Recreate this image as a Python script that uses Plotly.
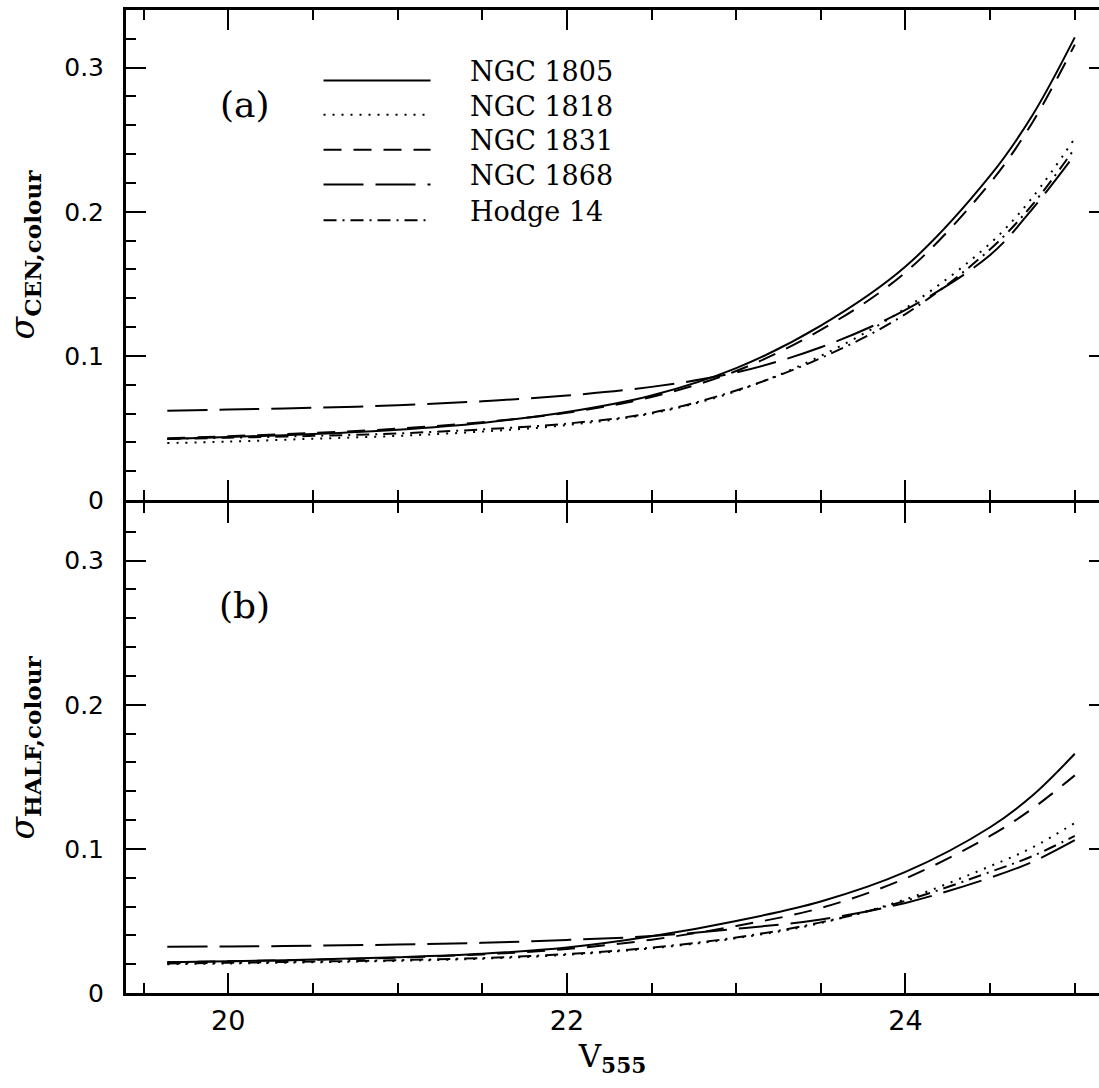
import plotly.graph_objects as go

# ---------------- data ----------------
V = [19.64, 20.0, 20.5, 21.0, 21.5, 22.0, 22.5, 23.0, 23.5, 24.0, 24.5, 24.75, 25.0]

# panel (a): sigma_CEN,colour
cen_1805 = [0.0424, 0.0437, 0.0458, 0.0488, 0.0535, 0.0610, 0.0725, 0.0915, 0.121, 0.162, 0.225, 0.267, 0.321]
cen_1818 = [0.0395, 0.0405, 0.0425, 0.0445, 0.0475, 0.0520, 0.0600, 0.0755, 0.100, 0.133, 0.178, 0.210, 0.251]
cen_1831 = [0.0428, 0.0443, 0.0465, 0.0495, 0.0540, 0.0605, 0.0715, 0.0895, 0.118, 0.158, 0.220, 0.262, 0.316]
cen_1868 = [0.0620, 0.0628, 0.0640, 0.0657, 0.0685, 0.0725, 0.0785, 0.0885, 0.106, 0.132, 0.170, 0.202, 0.2396]
cen_h14  = [0.0424, 0.0432, 0.0445, 0.0462, 0.0490, 0.0530, 0.0605, 0.0760, 0.0985, 0.129, 0.174, 0.205, 0.244]

# panel (b): sigma_HALF,colour
half_1805 = [0.0214, 0.0220, 0.0232, 0.0248, 0.0272, 0.0315, 0.0393, 0.0500, 0.0635, 0.0840, 0.115, 0.137, 0.166]
half_1818 = [0.0200, 0.0205, 0.0213, 0.0223, 0.0238, 0.0265, 0.0310, 0.0380, 0.0485, 0.0650, 0.088, 0.101, 0.118]
half_1831 = [0.0214, 0.0220, 0.0230, 0.0245, 0.0268, 0.0305, 0.0370, 0.0465, 0.0590, 0.0795, 0.109, 0.128, 0.151]
half_1868 = [0.0321, 0.0323, 0.0328, 0.0336, 0.0348, 0.0368, 0.0395, 0.0445, 0.0510, 0.0625, 0.080, 0.091, 0.106]
half_h14  = [0.0205, 0.0210, 0.0218, 0.0228, 0.0243, 0.0270, 0.0315, 0.0385, 0.0490, 0.0640, 0.084, 0.095, 0.109]

names = ["NGC 1805", "NGC 1818", "NGC 1831", "NGC 1868", "Hodge 14"]
top_series = [cen_1805, cen_1818, cen_1831, cen_1868, cen_h14]
bot_series = [half_1805, half_1818, half_1831, half_1868, half_h14]

x_ticks = [20, 22, 24]
y_ticks = [0, 0.1, 0.2, 0.3]
y_tick_text = ["0", "0.1", "0.2", "0.3"]

# ---------------- styles ----------------
dashes = ["solid", "2px,7px", "18px,12px", "40px,12px", "13px,6px,2px,6px"]
LW = 2
TICK_FONT = dict(family="DejaVu Sans", size=25, color="black")
XTICK_FONT = dict(family="DejaVu Sans", size=27, color="black")
SERIF = "DejaVu Serif"

fig = go.Figure()
for s, d, n in zip(top_series, dashes, names):
    fig.add_trace(go.Scatter(x=V, y=s, mode="lines", name=n, showlegend=False,
                             line=dict(color="black", width=LW, dash=d, shape="spline"),
                             xaxis="x", yaxis="y"))
for s, d, n in zip(bot_series, dashes, names):
    fig.add_trace(go.Scatter(x=V, y=s, mode="lines", name=n, showlegend=False,
                             line=dict(color="black", width=LW, dash=d, shape="spline"),
                             xaxis="x2", yaxis="y2"))
# empty traces to register right-hand tick axes
fig.add_trace(go.Scatter(x=[], y=[], xaxis="x", yaxis="y3", showlegend=False))
fig.add_trace(go.Scatter(x=[], y=[], xaxis="x2", yaxis="y4", showlegend=False))

xrange_ = [19.396, 25.143]
yrange_ = [0, 0.34]

common_x = dict(range=xrange_, showline=True, linewidth=3, linecolor="black", mirror="ticks",
                ticks="inside", ticklen=20, tickwidth=2, tickcolor="black",
                tickvals=x_ticks, ticktext=[str(v) for v in x_ticks],
                minor=dict(dtick=0.5, tick0=0, ticklen=10, tickwidth=2, tickcolor="black", ticks="inside"),
                showgrid=False, zeroline=False, tickfont=XTICK_FONT)
common_y = dict(range=yrange_, showline=True, linewidth=3, linecolor="black", mirror=False,
                ticks="inside", ticklen=20, tickwidth=2, tickcolor="black",
                tickvals=y_ticks, ticktext=y_tick_text,
                minor=dict(dtick=0.02, tick0=0, ticklen=10, tickwidth=2, tickcolor="black", ticks="inside"),
                showgrid=False, zeroline=False, tickfont=TICK_FONT, ticklabelstandoff=14)
right_y = dict(range=yrange_, showline=False, side="right", ticks="inside", ticklen=10,
               tickwidth=2, tickcolor="black", tickvals=y_ticks, showticklabels=False,
               showgrid=False, zeroline=False)

gap = 1.5 / 983.0
fig.update_layout(
    width=1099, height=1088,
    margin=dict(l=126, r=0, t=10, b=95),
    paper_bgcolor="white", plot_bgcolor="white",
    showlegend=False,
    xaxis=dict(common_x, anchor="y", showticklabels=False),
    yaxis=dict(common_y, domain=[0.5 + gap, 1.0], anchor="x",
               title=dict(text="<i>σ</i><sub><b>CEN,colour</b></sub>",
                          font=dict(family=SERIF, size=33, color="black"), standoff=20)),
    xaxis2=dict(common_x, anchor="y2", ticklabelstandoff=2,
                title=dict(text="V<sub><b>555</b></sub>", font=dict(family=SERIF, size=31, color="black"),
                           standoff=10)),
    yaxis2=dict(common_y, domain=[0.0, 0.5 - gap], anchor="x2",
                title=dict(text="<i>σ</i><sub><b>HALF,colour</b></sub>",
                           font=dict(family=SERIF, size=33, color="black"), standoff=20)),
    yaxis3=dict(right_y, overlaying="y", anchor="x"),
    yaxis4=dict(right_y, overlaying="y2", anchor="x2"),
)

# panel labels
fig.add_annotation(text="(a)", xref="x domain", yref="y domain", x=0.122, y=0.807,
                   xanchor="center", yanchor="middle",
                   showarrow=False, font=dict(family=SERIF, size=36, color="black"))
fig.add_annotation(text="(b)", xref="x2 domain", yref="y2 domain", x=0.122, y=0.79,
                   xanchor="center", yanchor="middle",
                   showarrow=False, font=dict(family=SERIF, size=36, color="black"))

# legend (manual, top panel)
text_y = [0.874, 0.804, 0.733, 0.662, 0.589]
line_off = 0.018
for n, d, ty in zip(names, dashes, text_y):
    fig.add_shape(type="line", xref="x domain", yref="y domain",
                  x0=0.203, x1=0.313, y0=ty - line_off, y1=ty - line_off,
                  line=dict(color="black", width=LW, dash=d))
    fig.add_annotation(text=n, xref="x domain", yref="y domain", x=0.351, y=ty,
                       xanchor="left", yanchor="middle", showarrow=False,
                       font=dict(family=SERIF, size=27, color="black"))

fig.write_html("out.html")
